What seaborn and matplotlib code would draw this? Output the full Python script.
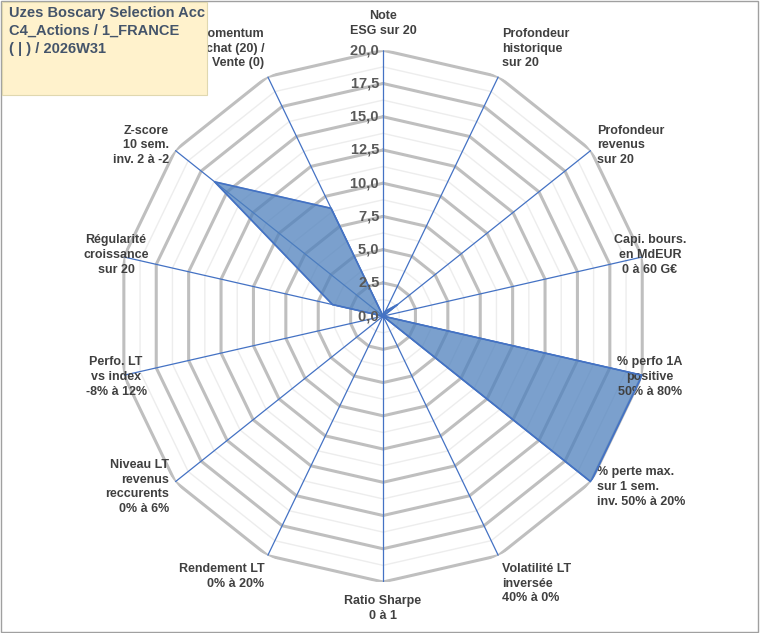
import matplotlib
matplotlib.use("Agg")
import matplotlib.pyplot as plt
import numpy as np
import seaborn as sns

sns.set_theme(style="white")
plt.rcParams["font.family"] = ["Liberation Sans", "DejaVu Sans"]

axes_labels = [
    "Note\nESG sur 20", "Profondeur\nhistorique\nsur 20", "Profondeur\nrevenus\nsur 20",
    "Capi. bours.\nen MdEUR\n0 à 60 G€", "% perfo 1A\npositive\n50% à 80%",
    "% perte max.\nsur 1 sem.\ninv. 50% à 20%", "Volatilité LT\ninversée\n40% à 0%",
    "Ratio Sharpe\n0 à 1", "Rendement LT\n0% à 20%", "Niveau LT\nrevenus\nreccurents\n0% à 6%",
    "Perfo. LT\nvs index\n-8% à 12%", "Régularité\ncroissance\nsur 20",
    "Z-score\n10 sem.\ninv. 2 à -2", "Momentum\nAchat (20) /\nVente (0)",
]
scores = [0, 0.4, 1.4, 0, 20, 20, 0, 0, 0, 0, 0, 3.9, 16.2, 9.0]
ticks = [0, 2.5, 5, 7.5, 10, 12.5, 15, 17.5, 20]
title_lines = ["Uzes Boscary Selection Acc", "C4_Actions / 1_FRANCE", "( | ) / 2026W31"]

n = len(axes_labels)
theta = np.linspace(0, 2 * np.pi, n, endpoint=False)
tc = np.append(theta, theta[0])

fig = plt.figure(figsize=(7.6, 6.33), dpi=100)
ax = fig.add_axes([0.154, 0.0806, 0.7, 0.84], projection="polar")
ax.set_theta_zero_location("N")
ax.set_theta_direction(-1)
ax.set_ylim(0, 20)
ax.axis("off")

# polygonal grid
for r in np.arange(1.25, 20.01, 1.25):
    major = abs(r / 2.5 - round(r / 2.5)) < 1e-6
    ax.plot(tc, [r] * len(tc), color="#BFBFBF" if major else "#EDEDED",
            lw=2.2 if major else 1.0, zorder=1)
for t in theta:
    ax.plot([t, t], [0, 20], color="#4472C4", lw=0.9, zorder=2)

vals = np.append(scores, scores[0])
ax.fill(tc, vals, color="#4F81BD", alpha=0.75, zorder=3)
ax.plot(tc, vals, color="#4472C4", lw=1.2, zorder=4)

for tk in ticks:
    ax.text(0, tk, f"{tk:.1f}".replace(".", ",") + " ", ha="right", va="center",
            fontsize=10.5, fontweight="bold", color="#595959", zorder=5)

for t, lab in zip(theta, axes_labels):
    s, c = np.sin(t), np.cos(t)
    ha = "center" if abs(s) < 0.2 else ("left" if s > 0 else "right")
    va = "bottom" if c > 0.8 else ("top" if c < -0.8 else "center")
    r = 21.0 if abs(s) < 0.2 else 20.6
    ax.text(t, r, lab, ha=ha if abs(s) < 0.9 else "center", va=va, fontsize=9,
            fontweight="bold", color="#404040", linespacing=1.3)

fig.patches.append(plt.Rectangle((0.001, 0.001), 0.997, 0.997, transform=fig.transFigure,
                                 fill=False, edgecolor="#A0A0A0", lw=1))
fig.patches.append(plt.Rectangle((0.003, 0.85), 0.27, 0.147, transform=fig.transFigure,
                                 facecolor="#FFF2CC", edgecolor="#E0D8B0", lw=0.8))
fig.text(0.012, 0.99, "\n".join(title_lines), ha="left", va="top", fontsize=10.5,
         fontweight="bold", color="#44546A", linespacing=1.35)

fig.savefig("out.png", dpi=100)
